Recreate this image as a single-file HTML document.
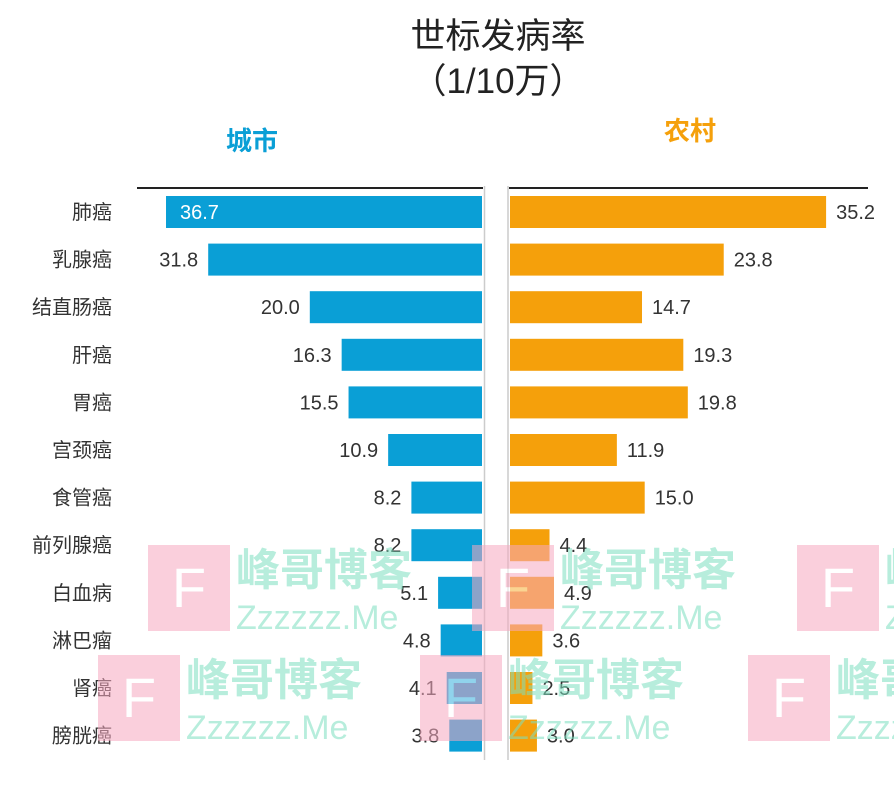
<!DOCTYPE html>
<html><head><meta charset="utf-8"><style>
body{margin:0;background:#fff;}
svg text{font-family:"Liberation Sans","Noto Sans CJK SC",sans-serif;}
</style></head><body>
<svg width="894" height="785" xmlns="http://www.w3.org/2000/svg">
<text x="498" y="48" font-size="35" text-anchor="middle" fill="#222">世标发病率</text>
<text x="498" y="93" font-size="35" text-anchor="middle" fill="#222">（1/10万）</text>
<text x="252" y="150" font-size="26" font-weight="bold" text-anchor="middle" fill="#0a9fd6">城市</text>
<text x="690" y="140" font-size="26" font-weight="bold" text-anchor="middle" fill="#f5a00b">农村</text>
<line x1="137" y1="188" x2="483" y2="188" stroke="#222" stroke-width="2"/>
<line x1="509" y1="188" x2="868" y2="188" stroke="#222" stroke-width="2"/>
<line x1="484.5" y1="186" x2="484.5" y2="760" stroke="#ccc" stroke-width="1.5"/>
<line x1="508" y1="186" x2="508" y2="760" stroke="#ccc" stroke-width="1.5"/>
<g id="rows"></g>
<g id="wm" opacity="0.55"></g>
</svg>
<script>
var d=[["肺癌",36.7,35.2],["乳腺癌",31.8,23.8],["结直肠癌",20.0,14.7],["肝癌",16.3,19.3],["胃癌",15.5,19.8],["宫颈癌",10.9,11.9],["食管癌",8.2,15.0],["前列腺癌",8.2,4.4],["白血病",5.1,4.9],["淋巴瘤",4.8,3.6],["肾癌",4.1,2.5],["膀胱癌",3.8,3.0]];
var g=document.getElementById('rows'),h='';
d.forEach(function(r,i){
 var c=212+i*47.6,y=c-16;
 var wl=r[1]*8.61,wr=r[2]*8.98;
 h+='<text x="112" y="'+(c+7)+'" font-size="20" text-anchor="end" fill="#333">'+r[0]+'</text>';
 h+='<rect x="'+(482-wl)+'" y="'+y+'" width="'+wl+'" height="32" fill="#0a9fd6"/>';
 if(i==0)h+='<text x="180" y="'+(c+7)+'" font-size="20" fill="#fff">'+r[1].toFixed(1)+'</text>';
 else h+='<text x="'+(472-wl)+'" y="'+(c+7)+'" font-size="20" text-anchor="end" fill="#333">'+r[1].toFixed(1)+'</text>';
 h+='<rect x="510" y="'+y+'" width="'+wr+'" height="32" fill="#f5a00b"/>';
 h+='<text x="'+(520+wr)+'" y="'+(c+7)+'" font-size="20" fill="#333">'+r[2].toFixed(1)+'</text>';
});
g.innerHTML=h;
var w='';
[[148,545],[472,545],[797,545],[98,655],[420,655],[748,655]].forEach(function(p){
 w+='<rect x="'+p[0]+'" y="'+p[1]+'" width="82" height="86" fill="#f7a8c0"/>';
 w+='<text x="'+(p[0]+41)+'" y="'+(p[1]+62)+'" font-size="56" text-anchor="middle" fill="#fff" font-family="Liberation Serif">F</text>';
 w+='<text x="'+(p[0]+88)+'" y="'+(p[1]+40)+'" font-size="44" font-weight="bold" fill="#7de0c0">峰哥博客</text>';
 w+='<text x="'+(p[0]+88)+'" y="'+(p[1]+84)+'" font-size="34" fill="#7de0c0">Zzzzzz.Me</text>';
});
document.getElementById('wm').innerHTML=w;
</script>
</body></html>
